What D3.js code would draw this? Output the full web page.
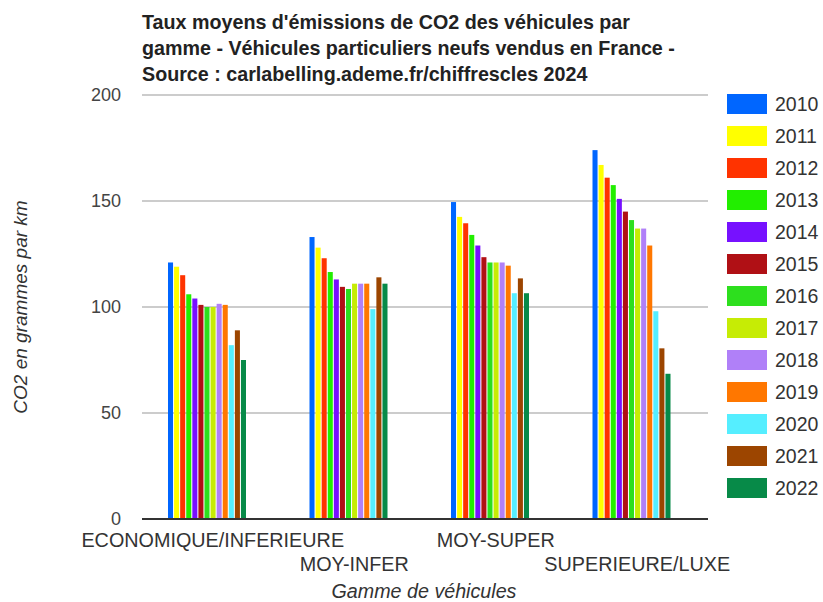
<!DOCTYPE html>
<html>
<head>
<meta charset="utf-8">
<script src="https://cdn.jsdelivr.net/npm/d3@7"></script>
<style>
  body { margin: 0; background: #fff; }
  svg { font-family: "Liberation Sans", Arial, sans-serif; }
</style>
</head>
<body>
<svg id="chart" width="823" height="602"></svg>
<script>
// data
const categories = ["ECONOMIQUE/INFERIEURE", "MOY-INFER", "MOY-SUPER", "SUPERIEURE/LUXE"];
const years = ["2010", "2011", "2012", "2013", "2014", "2015", "2016", "2017", "2018", "2019", "2020", "2021", "2022"];
const values = {
  "ECONOMIQUE/INFERIEURE": [121, 119, 115, 106, 104, 101, 100, 100, 101.5, 101, 82, 89, 75],
  "MOY-INFER": [133, 128, 123, 116.5, 113, 109.5, 108.5, 111, 111, 111, 99, 114, 111],
  "MOY-SUPER": [149.5, 142.5, 139.5, 134, 129, 123.5, 121, 121, 121, 119.5, 106.5, 113.5, 106.5],
  "SUPERIEURE/LUXE": [174, 167, 161, 157.5, 151, 145, 141, 137, 137, 129, 98, 80.5, 68.5]
};
const yTicks = [0, 50, 100, 150, 200];
const colors = ["#0066ff", "#ffff00", "#ff3300", "#22ee00", "#7711ff", "#b01015", "#2ddf1e",
  "#c6ec05", "#b080f8", "#ff7700", "#55eeff", "#9c4500", "#078a48"];
const titleLines = [
  "Taux moyens d'émissions de CO2 des véhicules par",
  "gamme - Véhicules particuliers neufs vendus en France -",
  "Source : carlabelling.ademe.fr/chiffrescles 2024"
];

// layout
const plot = { left: 142, right: 708, top: 95, bottom: 519 };
const groupOffset = 26;
const groupWidth = 78;

const svg = d3.select("#chart");

const x0 = d3.scaleBand().domain(categories).range([plot.left, plot.right]);
const x1 = d3.scaleBand().domain(years).range([0, groupWidth]).paddingInner(0.17);
const y = d3.scaleLinear().domain([0, 200]).range([plot.bottom, plot.top]);
const color = d3.scaleOrdinal().domain(years).range(colors);

// gridlines
svg.append("g")
  .selectAll("line")
  .data(yTicks.filter(t => t > 0))
  .join("line")
  .attr("x1", plot.left).attr("x2", plot.right)
  .attr("y1", d => y(d)).attr("y2", d => y(d))
  .attr("stroke", "#cccccc").attr("stroke-width", 2);

// y tick labels
svg.append("g")
  .selectAll("text")
  .data(yTicks)
  .join("text")
  .attr("x", 121)
  .attr("y", d => y(d) + 6)
  .attr("text-anchor", "end")
  .style("font-size", "18px")
  .attr("fill", "#444")
  .text(d => d);

// bars
const groups = svg.append("g")
  .selectAll("g")
  .data(categories)
  .join("g")
  .attr("transform", c => `translate(${x0(c) + groupOffset},0)`);

groups.selectAll("rect")
  .data(c => values[c].map((v, i) => ({ year: years[i], value: v })))
  .join("rect")
  .attr("x", d => x1(d.year))
  .attr("width", x1.bandwidth())
  .attr("y", d => y(d.value))
  .attr("height", d => y(0) - y(d.value))
  .attr("fill", d => color(d.year));

// baseline
svg.append("line")
  .attr("x1", plot.left).attr("x2", plot.right)
  .attr("y1", y(0)).attr("y2", y(0))
  .attr("stroke", "#333").attr("stroke-width", 2);

// x labels, staggered
svg.append("g")
  .selectAll("text")
  .data(categories)
  .join("text")
  .attr("x", c => x0(c) + x0.bandwidth() / 2)
  .attr("y", (c, i) => i % 2 === 0 ? 547 : 571)
  .attr("text-anchor", "middle")
  .style("font-size", "19.8px")
  .attr("fill", "#333")
  .text(c => c);

// axis titles
svg.append("text")
  .attr("x", (plot.left + plot.right) / 2 - 1)
  .attr("y", 598)
  .attr("text-anchor", "middle")
  .style("font-size", "19.7px")
  .style("font-style", "italic")
  .attr("fill", "#333")
  .text("Gamme de véhicules");

svg.append("text")
  .attr("transform", `translate(27, ${(plot.top + plot.bottom) / 2}) rotate(-90)`)
  .attr("text-anchor", "middle")
  .style("font-size", "19px")
  .style("font-style", "italic")
  .attr("fill", "#333")
  .text("CO2 en grammes par km");

// title
svg.append("g")
  .selectAll("text")
  .data(titleLines)
  .join("text")
  .attr("x", plot.left)
  .attr("y", (d, i) => 29 + i * 26)
  .style("font-size", "19.7px")
  .style("font-weight", "bold")
  .attr("fill", "#222")
  .text(d => d);

// legend
const legend = svg.append("g")
  .selectAll("g")
  .data(years)
  .join("g")
  .attr("transform", (d, i) => `translate(727, ${94 + i * 32})`);

legend.append("rect")
  .attr("width", 40).attr("height", 20)
  .attr("fill", d => color(d));

legend.append("text")
  .attr("x", 48).attr("y", 17)
  .style("font-size", "19.5px")
  .attr("fill", "#333")
  .text(d => d);
</script>
</body>
</html>
